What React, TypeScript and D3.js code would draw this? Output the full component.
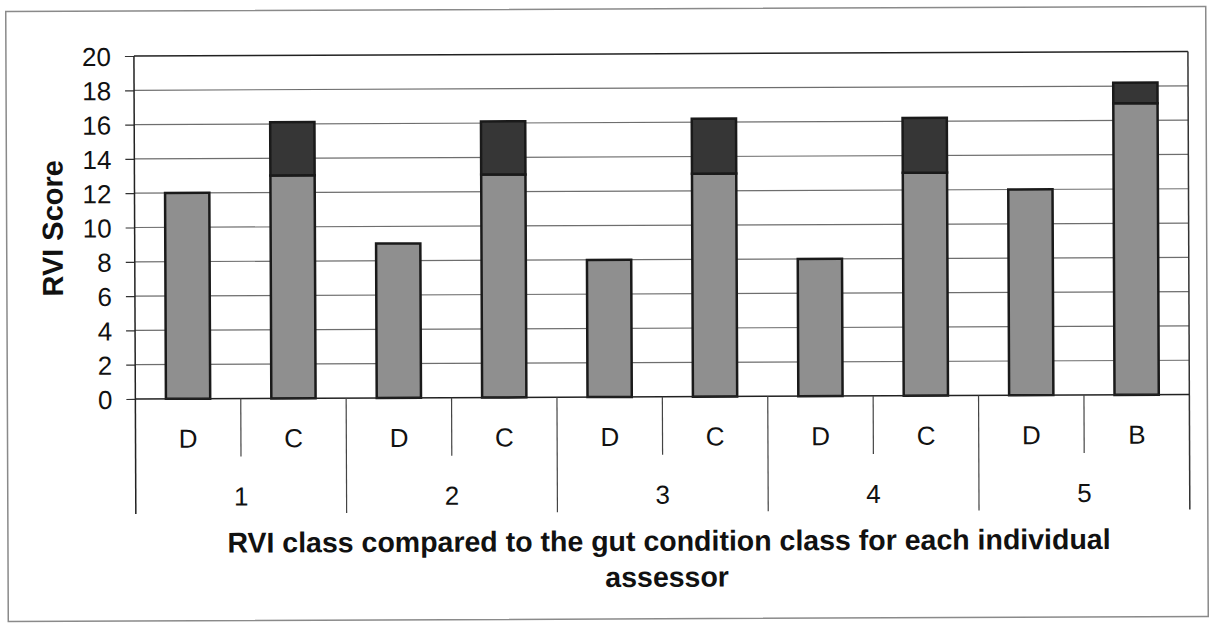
import React, { useEffect, useRef } from "react";
import * as d3 from "d3";

// assessors (outer axis level)
const assessors = ["1", "2", "3", "4", "5"];
// class labels under each bar (inner axis level)
const classLabels = ["D", "C", "D", "C", "D", "C", "D", "C", "D", "B"];
// RVI score, lower (light grey) part of the stacked bar
const lowerScore = [12, 13, 9, 13, 8, 13, 8, 13, 12, 17];
// upper (dark) part of the stacked bar
const upperScore = [0, 3.1, 0, 3.1, 0, 3.2, 0, 3.2, 0, 1.2];
const yTicks = [0, 2, 4, 6, 8, 10, 12, 14, 16, 18, 20];

const W = 1213;
const H = 626;
const FONT = "'Liberation Sans', Arial, sans-serif";

export default function App() {
  const ref = useRef<SVGSVGElement>(null);

  useEffect(() => {
    const svg = d3.select(ref.current);
    svg.selectAll("*").remove();

    const left = 135;
    const right = 1189;
    const top = 54;
    const bottom = 397;

    const root = svg
      .append("g")
      .attr("transform", "rotate(-0.24," + W / 2 + "," + H / 2 + ")");

    // outer frame
    root
      .append("rect")
      .attr("x", 7)
      .attr("y", 9)
      .attr("width", 1200)
      .attr("height", 610)
      .attr("fill", "#fff")
      .attr("stroke", "#8a8a8a")
      .attr("stroke-width", 1.5);

    const rows = classLabels.map((c, i) => ({
      key: String(i),
      cls: c,
      group: assessors[Math.floor(i / 2)],
      lower: lowerScore[i],
      upper: upperScore[i]
    }));

    const x = d3
      .scaleBand()
      .domain(rows.map(r => r.key))
      .range([left, right])
      .paddingInner(0)
      .paddingOuter(0);
    const xGroup = d3
      .scaleBand()
      .domain(assessors)
      .range([left, right])
      .padding(0);
    const y = d3.scaleLinear().domain([0, 20]).range([bottom, top]);

    // gridlines
    root
      .append("g")
      .selectAll("line")
      .data(yTicks.filter(t => t > 0))
      .enter()
      .append("line")
      .attr("x1", left)
      .attr("x2", right)
      .attr("y1", t => y(t))
      .attr("y2", t => y(t))
      .attr("stroke", t => (t === 20 ? "#222" : "#6e6e6e"))
      .attr("stroke-width", t => (t === 20 ? 1.5 : 1.2));

    // right border of plot
    root
      .append("line")
      .attr("x1", right)
      .attr("x2", right)
      .attr("y1", top)
      .attr("y2", 512)
      .attr("stroke", "#333")
      .attr("stroke-width", 1.5);

    // y axis
    const yAxis = root
      .append("g")
      .attr("transform", "translate(" + left + ",0)")
      .call(d3.axisLeft(y).tickValues(yTicks).tickSize(9).tickSizeOuter(0));
    yAxis.select(".domain").remove();
    yAxis.selectAll(".tick line").attr("stroke", "#333").attr("stroke-width", 1.2);
    yAxis
      .selectAll(".tick text")
      .attr("font-family", FONT)
      .attr("font-size", 26)
      .attr("fill", "#111")
      .attr("x", -23)
      .attr("dy", "0.36em");
    root
      .append("line")
      .attr("x1", left)
      .attr("x2", left)
      .attr("y1", top)
      .attr("y2", 512)
      .attr("stroke", "#222")
      .attr("stroke-width", 1.5);

    // stacked bars
    const stacked = d3.stack<any>().keys(["lower", "upper"])(rows);
    const fills = ["#8f8f8f", "#363636"];
    const barW = x.bandwidth() * 0.42;
    stacked.forEach((layer, li) => {
      root
        .append("g")
        .selectAll("rect")
        .data(layer.filter(d => d[1] - d[0] > 0))
        .enter()
        .append("rect")
        .attr("x", d => (x(d.data.key) as number) + (x.bandwidth() - barW) / 2)
        .attr("y", d => y(d[1]))
        .attr("width", barW)
        .attr("height", d => y(d[0]) - y(d[1]))
        .attr("fill", fills[li])
        .attr("stroke", "#1a1a1a")
        .attr("stroke-width", 2.5);
    });

    // x baseline
    root
      .append("line")
      .attr("x1", left)
      .attr("x2", right)
      .attr("y1", bottom)
      .attr("y2", bottom)
      .attr("stroke", "#222")
      .attr("stroke-width", 1.5);

    // inner separators (within each assessor)
    root
      .append("g")
      .selectAll("line")
      .data(assessors)
      .enter()
      .append("line")
      .attr("x1", g => (xGroup(g) as number) + xGroup.bandwidth() / 2)
      .attr("x2", g => (xGroup(g) as number) + xGroup.bandwidth() / 2)
      .attr("y1", bottom)
      .attr("y2", 455)
      .attr("stroke", "#444")
      .attr("stroke-width", 1.2);

    // group separators
    root
      .append("g")
      .selectAll("line")
      .data(assessors.slice(1))
      .enter()
      .append("line")
      .attr("x1", g => xGroup(g) as number)
      .attr("x2", g => xGroup(g) as number)
      .attr("y1", bottom)
      .attr("y2", 512)
      .attr("stroke", "#444")
      .attr("stroke-width", 1.2);

    // class labels
    root
      .append("g")
      .selectAll("text")
      .data(rows)
      .enter()
      .append("text")
      .attr("x", d => (x(d.key) as number) + x.bandwidth() / 2)
      .attr("y", 446)
      .attr("text-anchor", "middle")
      .attr("font-family", FONT)
      .attr("font-size", 26)
      .attr("fill", "#111")
      .text(d => d.cls);

    // assessor labels
    root
      .append("g")
      .selectAll("text")
      .data(assessors)
      .enter()
      .append("text")
      .attr("x", g => (xGroup(g) as number) + xGroup.bandwidth() / 2)
      .attr("y", 504)
      .attr("text-anchor", "middle")
      .attr("font-family", FONT)
      .attr("font-size", 26)
      .attr("fill", "#111")
      .text(g => g);

    // axis titles
    const xt = root
      .append("text")
      .attr("text-anchor", "middle")
      .attr("font-family", FONT)
      .attr("font-size", 28.5)
      .attr("font-weight", "bold")
      .attr("fill", "#111");
    xt.append("tspan")
      .attr("x", 668)
      .attr("y", 551)
      .text("RVI class compared to the gut condition class for each individual");
    xt.append("tspan")
      .attr("x", 666)
      .attr("y", 587)
      .text("assessor");

    root
      .append("text")
      .attr("transform", "translate(63,226) rotate(-90)")
      .attr("text-anchor", "middle")
      .attr("font-family", FONT)
      .attr("font-size", 29)
      .attr("font-weight", "bold")
      .attr("fill", "#111")
      .text("RVI Score");
  }, []);

  return (
    <svg
      ref={ref}
      width={W}
      height={H}
      style={{ position: "absolute", left: 0, top: 0, background: "#fff" }}
    />
  );
}
